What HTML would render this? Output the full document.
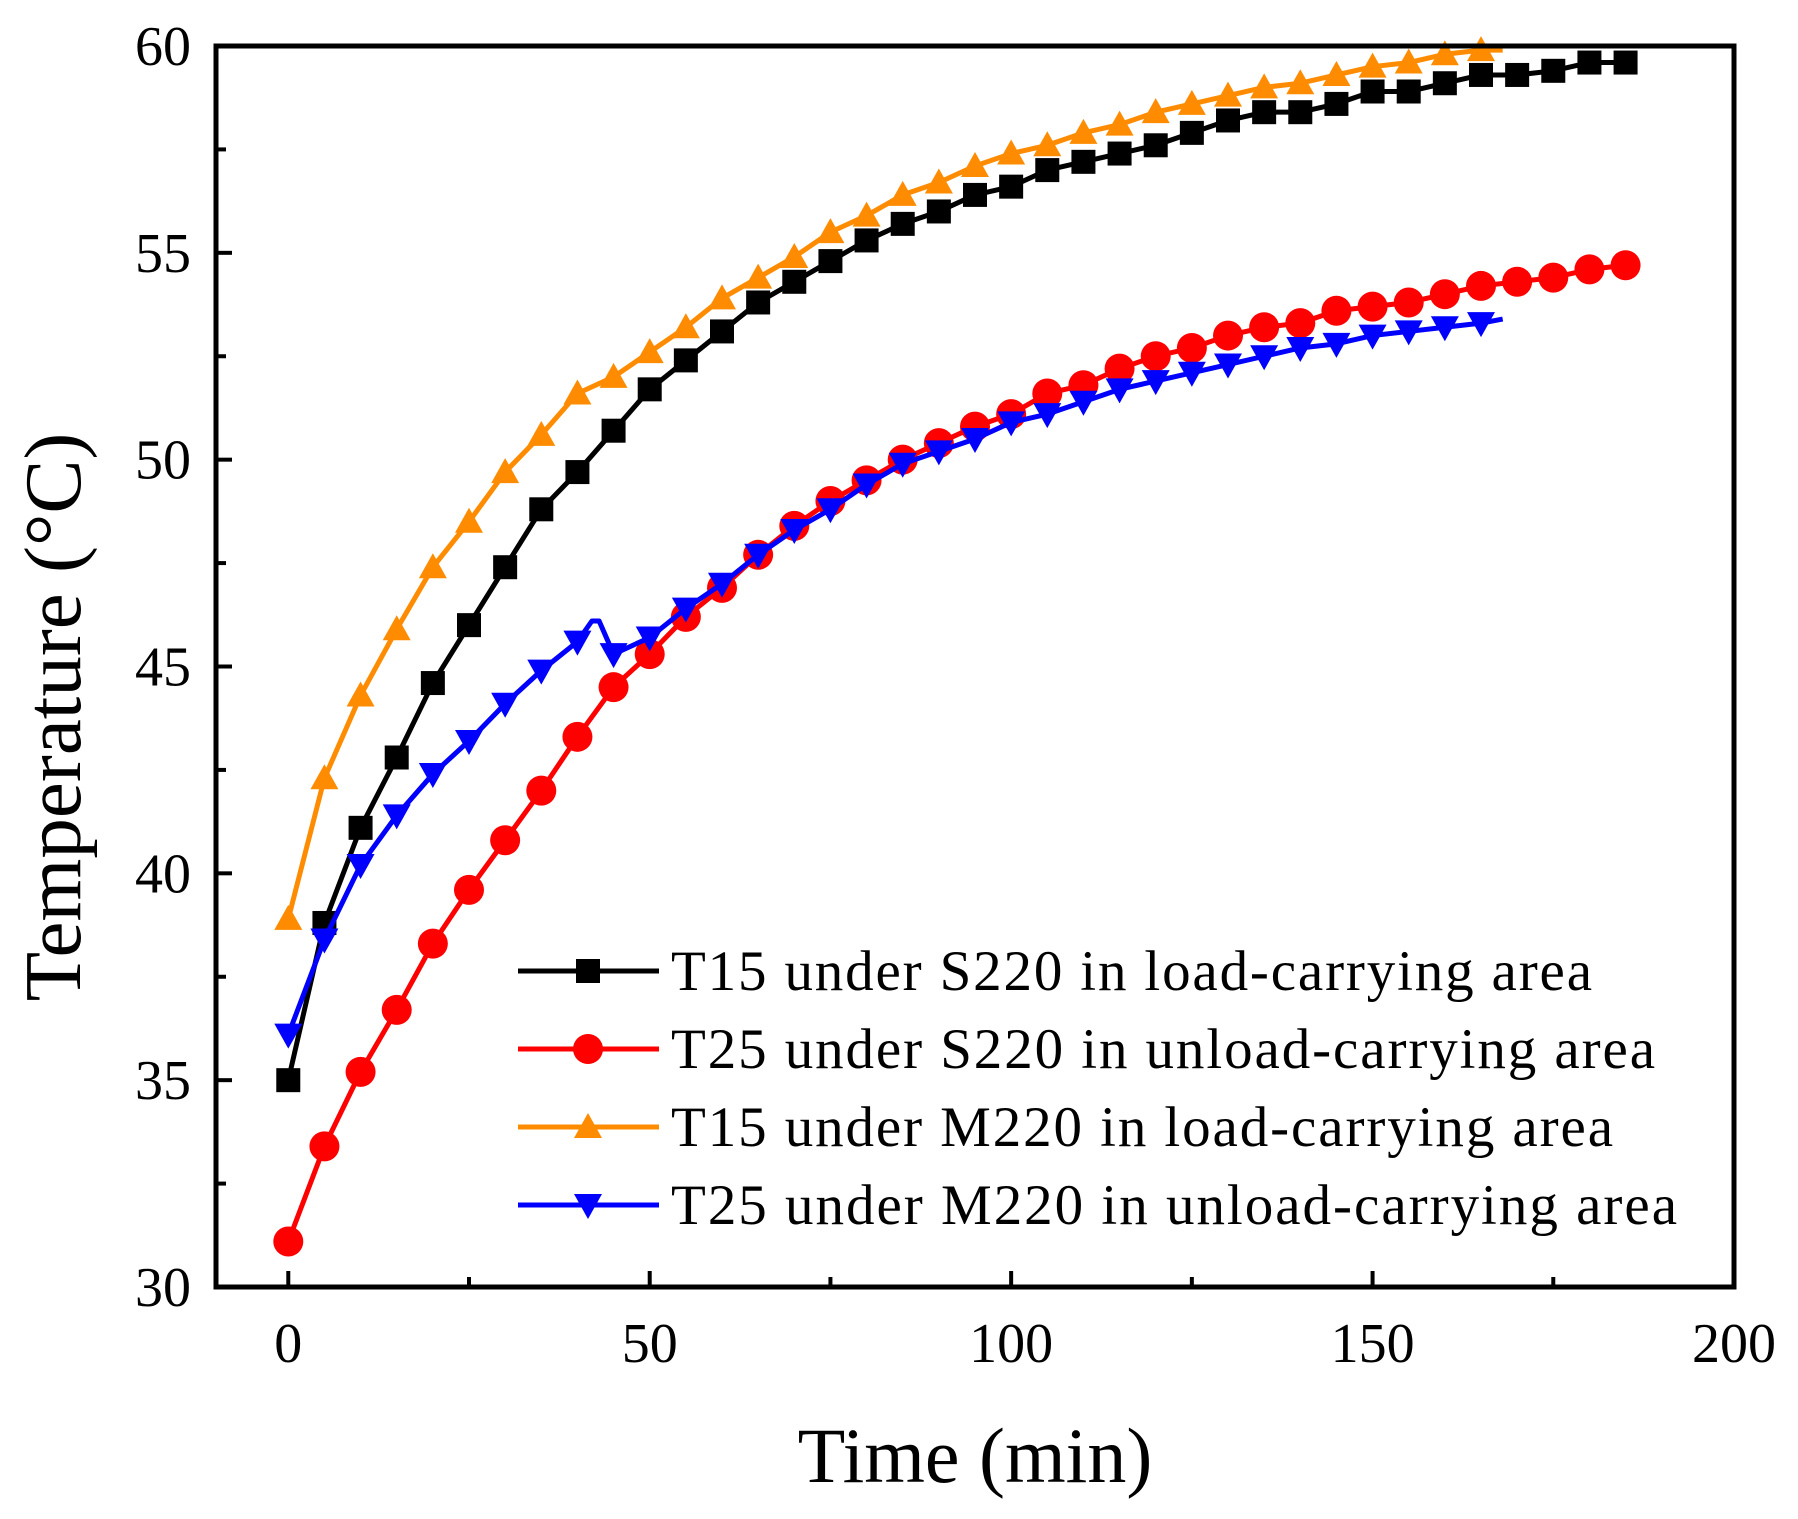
<!DOCTYPE html>
<html><head><meta charset="utf-8"><style>
html,body{margin:0;padding:0;background:#fff;}
svg{display:block;font-family:"Liberation Serif",serif;}
</style></head><body>
<svg id="chart" width="1798" height="1519" viewBox="0 0 1798 1519" xmlns="http://www.w3.org/2000/svg">
<g id="plot"></g>
</svg>
<script>
const times=[0,5,10,15,20,25,30,35,40,45,50,55,60,65,70,75,80,85,90,95,100,105,110,115,120,125,130,135,140,145,150,155,160,165,170,175,180,185];
const blackVals=[35,38.8,41.1,42.8,44.6,46.0,47.4,48.8,49.7,50.7,51.7,52.4,53.1,53.8,54.3,54.8,55.3,55.7,56.0,56.4,56.6,57.0,57.2,57.4,57.6,57.9,58.2,58.4,58.4,58.6,58.9,58.9,59.1,59.3,59.3,59.4,59.6,59.6];
const redVals=[31.1,33.4,35.2,36.7,38.3,39.6,40.8,42.0,43.3,44.5,45.3,46.2,46.9,47.7,48.4,49.0,49.5,50.0,50.4,50.8,51.1,51.6,51.8,52.2,52.5,52.7,53.0,53.2,53.3,53.6,53.7,53.8,54.0,54.2,54.3,54.4,54.6,54.7];
const orangeTimes=[0,5,10,15,20,25,30,35,40,45,50,55,60,65,70,75,80,85,90,95,100,105,110,115,120,125,130,135,140,145,150,155,160,165,168];
const orangeVals=[38.9,42.3,44.3,45.9,47.4,48.5,49.7,50.6,51.6,52.0,52.6,53.2,53.9,54.4,54.9,55.5,55.9,56.4,56.7,57.1,57.4,57.6,57.9,58.1,58.4,58.6,58.8,59.0,59.1,59.3,59.5,59.6,59.8,59.9,59.9];
const blueTimes=[0,5,10,15,20,25,30,35,40,42,43,45,50,55,60,65,70,75,80,85,90,95,100,105,110,115,120,125,130,135,140,145,150,155,160,165,168];
const blueVals=[36.1,38.4,40.2,41.4,42.4,43.2,44.1,44.9,45.6,46.1,46.1,45.3,45.7,46.4,47.0,47.7,48.3,48.8,49.4,49.9,50.2,50.5,50.9,51.1,51.4,51.7,51.9,52.1,52.3,52.5,52.7,52.8,53.0,53.1,53.2,53.3,53.4];
const xTicks=[0,50,100,150,200];
const yTicks=[30,35,40,45,50,55,60];
const legendLabels=["T15 under S220 in load-carrying area","T25 under S220 in unload-carrying area","T15 under M220 in load-carrying area","T25 under M220 in unload-carrying area"];
const legendTextWidths=[921,984,942,1006];

const L=216,R=1734,T=46,B=1287,X0=-10,X1=200,Y0=30,Y1=60;
const xs=v=>L+(v-X0)/(X1-X0)*(R-L);
const ys=v=>B-(v-Y0)/(Y1-Y0)*(B-T);
const NS="http://www.w3.org/2000/svg";
const g=document.getElementById('plot');
function mk(tag,attrs,parent){const e=document.createElementNS(NS,tag);for(const k in attrs)e.setAttribute(k,attrs[k]);(parent||g).appendChild(e);return e;}

for(let v=30;v<=60;v+=2.5){const major=v%5===0;const t=mk('line',{x1:L,x2:L+(major?16:10),y1:ys(v),y2:ys(v),stroke:'#000','stroke-width':4});

}
for(let v=0;v<=200;v+=25){const major=v%50===0;const t=mk('line',{x1:xs(v),x2:xs(v),y1:B,y2:B-(major?16:10),stroke:'#000','stroke-width':4});

}
yTicks.forEach(v=>{const t=mk('text',{x:191,y:ys(v)+19,'text-anchor':'end','font-size':56});t.textContent=v;

});
xTicks.forEach(v=>{const t=mk('text',{x:xs(v),y:1362,'text-anchor':'middle','font-size':56});t.textContent=v;

});

const xt=mk('text',{x:975,y:1482,'text-anchor':'middle','font-size':78});xt.textContent='Time (min)';


const yt=mk('text',{x:0,y:0,'text-anchor':'middle','font-size':81,transform:'translate(80,717) rotate(-90)'});yt.textContent='Temperature (°C)';



function marker(type,x,y,color,parent){
  let e;
  if(type==='sq')e=mk('rect',{x:x-12,y:y-12,width:24,height:24,fill:color},parent);
  else if(type==='ci')e=mk('circle',{cx:x,cy:y,r:15,fill:color},parent);
  else if(type==='up')e=mk('polygon',{points:`${x},${y-14} ${x-14},${y+11} ${x+14},${y+11}`,fill:color},parent);
  else e=mk('polygon',{points:`${x},${y+14} ${x-14},${y-11} ${x+14},${y-11}`,fill:color},parent);
  return e;
}
const series=[
  {name:'series-t15-s220',tx:times,vals:blackVals,color:'#000000',m:'sq'},
  {name:'series-t25-s220',tx:times,vals:redVals,color:'#ff0000',m:'ci'},
  {name:'series-t15-m220',tx:orangeTimes,vals:orangeVals,color:'#ff8c00',m:'up'},
  {name:'series-t25-m220',tx:blueTimes,vals:blueVals,color:'#0000ff',m:'dn'}
];
series.forEach(s=>{
  const sg=mk('g',{});
  
  
  const pts=s.tx.map((t,i)=>xs(t)+','+ys(s.vals[i])).join(' ');
  const pl=mk('polyline',{points:pts,fill:'none',stroke:s.color,'stroke-width':5,'stroke-linejoin':'round'},sg);
  
  
  s.tx.forEach((t,i)=>{if(t%5!==0)return;const m=marker(s.m,xs(t),ys(s.vals[i]),s.color,sg);
    
    });
});

const fr=mk('rect',{x:L,y:T,width:R-L,height:B-T,fill:'none',stroke:'#000','stroke-width':5});



const lg=mk('g',{});


legendLabels.forEach((lab,i)=>{
  const y=971+i*78;const s=series[i];
  const eg=mk('g',{},lg);
  
  
  mk('line',{x1:518,x2:659,y1:y,y2:y,stroke:s.color,'stroke-width':5},eg);
  marker(s.m,588,y,s.color,eg);
  const t=mk('text',{x:671,y:y+19,'font-size':57,textLength:legendTextWidths[i],lengthAdjust:'spacing'},eg);t.textContent=lab;
});
</script>
</body></html>
